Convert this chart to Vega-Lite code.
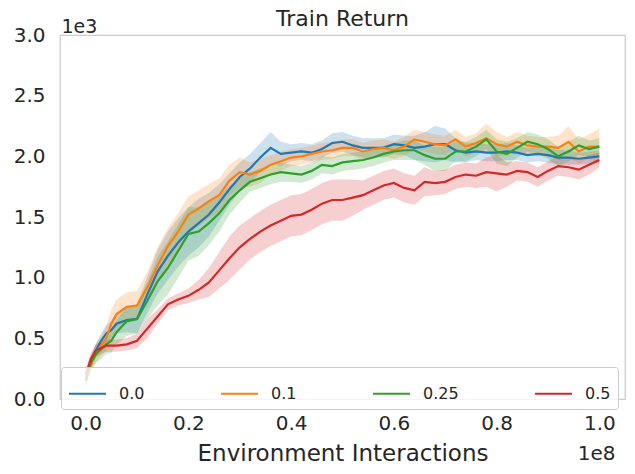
{
  "$schema": "https://vega.github.io/schema/vega-lite/v6.json",
  "autosize": {"type": "none"},
  "padding": {"left": 60, "top": 35, "right": 10, "bottom": 75},
  "width": 565,
  "height": 364,
  "title": {"text": "Train Return", "fontSize": 22, "fontWeight": "normal", "color": "#262626", "offset": -14},
  "data": {
    "values": [
      {"s": "0.0", "x": 0, "y": 150, "lo": 100, "hi": 200},
      {"s": "0.0", "x": 1000000, "y": 300, "lo": 250, "hi": 350},
      {"s": "0.0", "x": 2000000, "y": 400, "lo": 340, "hi": 460},
      {"s": "0.0", "x": 3000000, "y": 480, "lo": 420, "hi": 540},
      {"s": "0.0", "x": 4000000, "y": 540, "lo": 470, "hi": 610},
      {"s": "0.0", "x": 5000000, "y": 570, "lo": 490, "hi": 650},
      {"s": "0.0", "x": 6000000, "y": 620, "lo": 540, "hi": 700},
      {"s": "0.0", "x": 8000000, "y": 650, "lo": 550, "hi": 750},
      {"s": "0.0", "x": 10000000, "y": 660, "lo": 540, "hi": 780},
      {"s": "0.0", "x": 12000000, "y": 860, "lo": 710, "hi": 1010},
      {"s": "0.0", "x": 14000000, "y": 1050, "lo": 870, "hi": 1230},
      {"s": "0.0", "x": 16000000, "y": 1180, "lo": 980, "hi": 1380},
      {"s": "0.0", "x": 18000000, "y": 1290, "lo": 1090, "hi": 1490},
      {"s": "0.0", "x": 20000000, "y": 1380, "lo": 1180, "hi": 1580},
      {"s": "0.0", "x": 22000000, "y": 1450, "lo": 1250, "hi": 1650},
      {"s": "0.0", "x": 24000000, "y": 1520, "lo": 1340, "hi": 1700},
      {"s": "0.0", "x": 26000000, "y": 1620, "lo": 1470, "hi": 1770},
      {"s": "0.0", "x": 28000000, "y": 1730, "lo": 1600, "hi": 1860},
      {"s": "0.0", "x": 30000000, "y": 1830, "lo": 1710, "hi": 1950},
      {"s": "0.0", "x": 32000000, "y": 1900, "lo": 1780, "hi": 2020},
      {"s": "0.0", "x": 34000000, "y": 1990, "lo": 1870, "hi": 2110},
      {"s": "0.0", "x": 36000000, "y": 2070, "lo": 1940, "hi": 2200},
      {"s": "0.0", "x": 38000000, "y": 2020, "lo": 1920, "hi": 2120},
      {"s": "0.0", "x": 40000000, "y": 2030, "lo": 1960, "hi": 2100},
      {"s": "0.0", "x": 42000000, "y": 2040, "lo": 1970, "hi": 2110},
      {"s": "0.0", "x": 44000000, "y": 2030, "lo": 1960, "hi": 2100},
      {"s": "0.0", "x": 46000000, "y": 2060, "lo": 1990, "hi": 2130},
      {"s": "0.0", "x": 48000000, "y": 2110, "lo": 2030, "hi": 2190},
      {"s": "0.0", "x": 50000000, "y": 2120, "lo": 2040, "hi": 2200},
      {"s": "0.0", "x": 52000000, "y": 2090, "lo": 2010, "hi": 2170},
      {"s": "0.0", "x": 54000000, "y": 2070, "lo": 1990, "hi": 2150},
      {"s": "0.0", "x": 56000000, "y": 2070, "lo": 1990, "hi": 2150},
      {"s": "0.0", "x": 58000000, "y": 2070, "lo": 1990, "hi": 2150},
      {"s": "0.0", "x": 60000000, "y": 2100, "lo": 2020, "hi": 2180},
      {"s": "0.0", "x": 62000000, "y": 2090, "lo": 2010, "hi": 2170},
      {"s": "0.0", "x": 64000000, "y": 2070, "lo": 1970, "hi": 2170},
      {"s": "0.0", "x": 66000000, "y": 2080, "lo": 1960, "hi": 2200},
      {"s": "0.0", "x": 68000000, "y": 2100, "lo": 1950, "hi": 2250},
      {"s": "0.0", "x": 70000000, "y": 2100, "lo": 1970, "hi": 2230},
      {"s": "0.0", "x": 72000000, "y": 2050, "lo": 1950, "hi": 2150},
      {"s": "0.0", "x": 74000000, "y": 2030, "lo": 1950, "hi": 2110},
      {"s": "0.0", "x": 76000000, "y": 2040, "lo": 1970, "hi": 2110},
      {"s": "0.0", "x": 78000000, "y": 2030, "lo": 1960, "hi": 2100},
      {"s": "0.0", "x": 80000000, "y": 2030, "lo": 1960, "hi": 2100},
      {"s": "0.0", "x": 82000000, "y": 2040, "lo": 1970, "hi": 2110},
      {"s": "0.0", "x": 84000000, "y": 2030, "lo": 1970, "hi": 2090},
      {"s": "0.0", "x": 86000000, "y": 2010, "lo": 1950, "hi": 2070},
      {"s": "0.0", "x": 88000000, "y": 2020, "lo": 1960, "hi": 2080},
      {"s": "0.0", "x": 90000000, "y": 2010, "lo": 1950, "hi": 2070},
      {"s": "0.0", "x": 92000000, "y": 1990, "lo": 1930, "hi": 2050},
      {"s": "0.0", "x": 94000000, "y": 1990, "lo": 1930, "hi": 2050},
      {"s": "0.0", "x": 96000000, "y": 1980, "lo": 1930, "hi": 2030},
      {"s": "0.0", "x": 98000000, "y": 1990, "lo": 1940, "hi": 2040},
      {"s": "0.0", "x": 100000000, "y": 2000, "lo": 1950, "hi": 2050},

      {"s": "0.1", "x": 0, "y": 150, "lo": 100, "hi": 200},
      {"s": "0.1", "x": 1000000, "y": 280, "lo": 220, "hi": 340},
      {"s": "0.1", "x": 2000000, "y": 380, "lo": 300, "hi": 460},
      {"s": "0.1", "x": 3000000, "y": 440, "lo": 360, "hi": 520},
      {"s": "0.1", "x": 4000000, "y": 500, "lo": 400, "hi": 600},
      {"s": "0.1", "x": 5000000, "y": 620, "lo": 500, "hi": 740},
      {"s": "0.1", "x": 6000000, "y": 700, "lo": 580, "hi": 820},
      {"s": "0.1", "x": 8000000, "y": 760, "lo": 640, "hi": 880},
      {"s": "0.1", "x": 10000000, "y": 770, "lo": 650, "hi": 890},
      {"s": "0.1", "x": 12000000, "y": 920, "lo": 790, "hi": 1050},
      {"s": "0.1", "x": 14000000, "y": 1100, "lo": 950, "hi": 1250},
      {"s": "0.1", "x": 16000000, "y": 1260, "lo": 1110, "hi": 1410},
      {"s": "0.1", "x": 18000000, "y": 1380, "lo": 1230, "hi": 1530},
      {"s": "0.1", "x": 20000000, "y": 1520, "lo": 1370, "hi": 1670},
      {"s": "0.1", "x": 22000000, "y": 1570, "lo": 1420, "hi": 1720},
      {"s": "0.1", "x": 24000000, "y": 1630, "lo": 1490, "hi": 1770},
      {"s": "0.1", "x": 26000000, "y": 1680, "lo": 1540, "hi": 1820},
      {"s": "0.1", "x": 28000000, "y": 1800, "lo": 1670, "hi": 1930},
      {"s": "0.1", "x": 30000000, "y": 1870, "lo": 1750, "hi": 1990},
      {"s": "0.1", "x": 32000000, "y": 1850, "lo": 1750, "hi": 1950},
      {"s": "0.1", "x": 34000000, "y": 1880, "lo": 1780, "hi": 1980},
      {"s": "0.1", "x": 36000000, "y": 1930, "lo": 1850, "hi": 2010},
      {"s": "0.1", "x": 38000000, "y": 1960, "lo": 1880, "hi": 2040},
      {"s": "0.1", "x": 40000000, "y": 1990, "lo": 1920, "hi": 2060},
      {"s": "0.1", "x": 42000000, "y": 2000, "lo": 1930, "hi": 2070},
      {"s": "0.1", "x": 44000000, "y": 2020, "lo": 1950, "hi": 2090},
      {"s": "0.1", "x": 46000000, "y": 2040, "lo": 1970, "hi": 2110},
      {"s": "0.1", "x": 48000000, "y": 2050, "lo": 1980, "hi": 2120},
      {"s": "0.1", "x": 50000000, "y": 2070, "lo": 2000, "hi": 2140},
      {"s": "0.1", "x": 52000000, "y": 2070, "lo": 2000, "hi": 2140},
      {"s": "0.1", "x": 54000000, "y": 2040, "lo": 1970, "hi": 2110},
      {"s": "0.1", "x": 56000000, "y": 2060, "lo": 1990, "hi": 2130},
      {"s": "0.1", "x": 58000000, "y": 2070, "lo": 2000, "hi": 2140},
      {"s": "0.1", "x": 60000000, "y": 2050, "lo": 1980, "hi": 2120},
      {"s": "0.1", "x": 62000000, "y": 2080, "lo": 2000, "hi": 2160},
      {"s": "0.1", "x": 64000000, "y": 2140, "lo": 2060, "hi": 2220},
      {"s": "0.1", "x": 66000000, "y": 2120, "lo": 2040, "hi": 2200},
      {"s": "0.1", "x": 68000000, "y": 2100, "lo": 2020, "hi": 2180},
      {"s": "0.1", "x": 70000000, "y": 2090, "lo": 2010, "hi": 2170},
      {"s": "0.1", "x": 72000000, "y": 2140, "lo": 2060, "hi": 2220},
      {"s": "0.1", "x": 74000000, "y": 2080, "lo": 2000, "hi": 2160},
      {"s": "0.1", "x": 76000000, "y": 2110, "lo": 2030, "hi": 2190},
      {"s": "0.1", "x": 78000000, "y": 2150, "lo": 2030, "hi": 2270},
      {"s": "0.1", "x": 80000000, "y": 2100, "lo": 2000, "hi": 2200},
      {"s": "0.1", "x": 82000000, "y": 2080, "lo": 2000, "hi": 2160},
      {"s": "0.1", "x": 84000000, "y": 2120, "lo": 2040, "hi": 2200},
      {"s": "0.1", "x": 86000000, "y": 2090, "lo": 2010, "hi": 2170},
      {"s": "0.1", "x": 88000000, "y": 2080, "lo": 2000, "hi": 2160},
      {"s": "0.1", "x": 90000000, "y": 2080, "lo": 2000, "hi": 2160},
      {"s": "0.1", "x": 92000000, "y": 2070, "lo": 1970, "hi": 2170},
      {"s": "0.1", "x": 94000000, "y": 2120, "lo": 1990, "hi": 2250},
      {"s": "0.1", "x": 96000000, "y": 2040, "lo": 1940, "hi": 2140},
      {"s": "0.1", "x": 98000000, "y": 2080, "lo": 1980, "hi": 2180},
      {"s": "0.1", "x": 100000000, "y": 2080, "lo": 1930, "hi": 2230},

      {"s": "0.25", "x": 0, "y": 150, "lo": 100, "hi": 200},
      {"s": "0.25", "x": 1000000, "y": 300, "lo": 240, "hi": 360},
      {"s": "0.25", "x": 2000000, "y": 370, "lo": 300, "hi": 440},
      {"s": "0.25", "x": 3000000, "y": 410, "lo": 330, "hi": 490},
      {"s": "0.25", "x": 4000000, "y": 450, "lo": 370, "hi": 530},
      {"s": "0.25", "x": 5000000, "y": 480, "lo": 380, "hi": 580},
      {"s": "0.25", "x": 6000000, "y": 550, "lo": 450, "hi": 650},
      {"s": "0.25", "x": 8000000, "y": 640, "lo": 520, "hi": 760},
      {"s": "0.25", "x": 10000000, "y": 660, "lo": 540, "hi": 780},
      {"s": "0.25", "x": 12000000, "y": 810, "lo": 660, "hi": 960},
      {"s": "0.25", "x": 14000000, "y": 970, "lo": 770, "hi": 1170},
      {"s": "0.25", "x": 16000000, "y": 1080, "lo": 860, "hi": 1300},
      {"s": "0.25", "x": 18000000, "y": 1220, "lo": 1000, "hi": 1440},
      {"s": "0.25", "x": 20000000, "y": 1360, "lo": 1140, "hi": 1580},
      {"s": "0.25", "x": 22000000, "y": 1380, "lo": 1180, "hi": 1580},
      {"s": "0.25", "x": 24000000, "y": 1450, "lo": 1270, "hi": 1630},
      {"s": "0.25", "x": 26000000, "y": 1530, "lo": 1380, "hi": 1680},
      {"s": "0.25", "x": 28000000, "y": 1640, "lo": 1520, "hi": 1760},
      {"s": "0.25", "x": 30000000, "y": 1720, "lo": 1620, "hi": 1820},
      {"s": "0.25", "x": 32000000, "y": 1790, "lo": 1710, "hi": 1870},
      {"s": "0.25", "x": 34000000, "y": 1820, "lo": 1740, "hi": 1900},
      {"s": "0.25", "x": 36000000, "y": 1850, "lo": 1770, "hi": 1930},
      {"s": "0.25", "x": 38000000, "y": 1870, "lo": 1790, "hi": 1950},
      {"s": "0.25", "x": 40000000, "y": 1860, "lo": 1790, "hi": 1930},
      {"s": "0.25", "x": 42000000, "y": 1850, "lo": 1780, "hi": 1920},
      {"s": "0.25", "x": 44000000, "y": 1880, "lo": 1810, "hi": 1950},
      {"s": "0.25", "x": 46000000, "y": 1930, "lo": 1860, "hi": 2000},
      {"s": "0.25", "x": 48000000, "y": 1920, "lo": 1850, "hi": 1990},
      {"s": "0.25", "x": 50000000, "y": 1950, "lo": 1880, "hi": 2020},
      {"s": "0.25", "x": 52000000, "y": 1960, "lo": 1890, "hi": 2030},
      {"s": "0.25", "x": 54000000, "y": 1970, "lo": 1900, "hi": 2040},
      {"s": "0.25", "x": 56000000, "y": 1990, "lo": 1920, "hi": 2060},
      {"s": "0.25", "x": 58000000, "y": 2020, "lo": 1950, "hi": 2090},
      {"s": "0.25", "x": 60000000, "y": 2040, "lo": 1970, "hi": 2110},
      {"s": "0.25", "x": 62000000, "y": 2050, "lo": 1970, "hi": 2130},
      {"s": "0.25", "x": 64000000, "y": 2050, "lo": 1970, "hi": 2130},
      {"s": "0.25", "x": 66000000, "y": 2010, "lo": 1930, "hi": 2090},
      {"s": "0.25", "x": 68000000, "y": 1980, "lo": 1880, "hi": 2080},
      {"s": "0.25", "x": 70000000, "y": 1980, "lo": 1880, "hi": 2080},
      {"s": "0.25", "x": 72000000, "y": 2040, "lo": 1960, "hi": 2120},
      {"s": "0.25", "x": 74000000, "y": 2040, "lo": 1960, "hi": 2120},
      {"s": "0.25", "x": 76000000, "y": 2080, "lo": 2000, "hi": 2160},
      {"s": "0.25", "x": 78000000, "y": 2140, "lo": 2060, "hi": 2220},
      {"s": "0.25", "x": 80000000, "y": 2040, "lo": 1940, "hi": 2140},
      {"s": "0.25", "x": 82000000, "y": 2020, "lo": 1920, "hi": 2120},
      {"s": "0.25", "x": 84000000, "y": 2070, "lo": 1990, "hi": 2150},
      {"s": "0.25", "x": 86000000, "y": 2120, "lo": 2040, "hi": 2200},
      {"s": "0.25", "x": 88000000, "y": 2100, "lo": 2020, "hi": 2180},
      {"s": "0.25", "x": 90000000, "y": 2060, "lo": 1980, "hi": 2140},
      {"s": "0.25", "x": 92000000, "y": 2000, "lo": 1920, "hi": 2080},
      {"s": "0.25", "x": 94000000, "y": 2040, "lo": 1960, "hi": 2120},
      {"s": "0.25", "x": 96000000, "y": 2090, "lo": 2010, "hi": 2170},
      {"s": "0.25", "x": 98000000, "y": 2060, "lo": 1990, "hi": 2130},
      {"s": "0.25", "x": 100000000, "y": 2080, "lo": 2010, "hi": 2150},

      {"s": "0.5", "x": 0, "y": 200, "lo": 150, "hi": 250},
      {"s": "0.5", "x": 1000000, "y": 330, "lo": 280, "hi": 380},
      {"s": "0.5", "x": 2000000, "y": 400, "lo": 350, "hi": 450},
      {"s": "0.5", "x": 3000000, "y": 420, "lo": 370, "hi": 470},
      {"s": "0.5", "x": 4000000, "y": 440, "lo": 390, "hi": 490},
      {"s": "0.5", "x": 5000000, "y": 440, "lo": 390, "hi": 490},
      {"s": "0.5", "x": 6000000, "y": 440, "lo": 390, "hi": 490},
      {"s": "0.5", "x": 8000000, "y": 450, "lo": 400, "hi": 500},
      {"s": "0.5", "x": 10000000, "y": 480, "lo": 420, "hi": 540},
      {"s": "0.5", "x": 12000000, "y": 580, "lo": 500, "hi": 660},
      {"s": "0.5", "x": 14000000, "y": 680, "lo": 620, "hi": 740},
      {"s": "0.5", "x": 16000000, "y": 780, "lo": 730, "hi": 830},
      {"s": "0.5", "x": 18000000, "y": 820, "lo": 770, "hi": 870},
      {"s": "0.5", "x": 20000000, "y": 850, "lo": 790, "hi": 910},
      {"s": "0.5", "x": 22000000, "y": 900, "lo": 820, "hi": 980},
      {"s": "0.5", "x": 24000000, "y": 960, "lo": 840, "hi": 1080},
      {"s": "0.5", "x": 26000000, "y": 1060, "lo": 910, "hi": 1210},
      {"s": "0.5", "x": 28000000, "y": 1160, "lo": 980, "hi": 1340},
      {"s": "0.5", "x": 30000000, "y": 1250, "lo": 1070, "hi": 1430},
      {"s": "0.5", "x": 32000000, "y": 1320, "lo": 1150, "hi": 1490},
      {"s": "0.5", "x": 34000000, "y": 1380, "lo": 1210, "hi": 1550},
      {"s": "0.5", "x": 36000000, "y": 1430, "lo": 1260, "hi": 1600},
      {"s": "0.5", "x": 38000000, "y": 1470, "lo": 1300, "hi": 1640},
      {"s": "0.5", "x": 40000000, "y": 1510, "lo": 1340, "hi": 1680},
      {"s": "0.5", "x": 42000000, "y": 1520, "lo": 1350, "hi": 1690},
      {"s": "0.5", "x": 44000000, "y": 1560, "lo": 1390, "hi": 1730},
      {"s": "0.5", "x": 46000000, "y": 1610, "lo": 1440, "hi": 1780},
      {"s": "0.5", "x": 48000000, "y": 1640, "lo": 1470, "hi": 1810},
      {"s": "0.5", "x": 50000000, "y": 1640, "lo": 1470, "hi": 1810},
      {"s": "0.5", "x": 52000000, "y": 1660, "lo": 1510, "hi": 1810},
      {"s": "0.5", "x": 54000000, "y": 1680, "lo": 1560, "hi": 1800},
      {"s": "0.5", "x": 56000000, "y": 1720, "lo": 1600, "hi": 1840},
      {"s": "0.5", "x": 58000000, "y": 1760, "lo": 1640, "hi": 1880},
      {"s": "0.5", "x": 60000000, "y": 1780, "lo": 1660, "hi": 1900},
      {"s": "0.5", "x": 62000000, "y": 1740, "lo": 1620, "hi": 1860},
      {"s": "0.5", "x": 64000000, "y": 1720, "lo": 1600, "hi": 1840},
      {"s": "0.5", "x": 66000000, "y": 1790, "lo": 1670, "hi": 1910},
      {"s": "0.5", "x": 68000000, "y": 1780, "lo": 1680, "hi": 1880},
      {"s": "0.5", "x": 70000000, "y": 1790, "lo": 1690, "hi": 1890},
      {"s": "0.5", "x": 72000000, "y": 1830, "lo": 1730, "hi": 1930},
      {"s": "0.5", "x": 74000000, "y": 1850, "lo": 1750, "hi": 1950},
      {"s": "0.5", "x": 76000000, "y": 1840, "lo": 1740, "hi": 1940},
      {"s": "0.5", "x": 78000000, "y": 1870, "lo": 1750, "hi": 1990},
      {"s": "0.5", "x": 80000000, "y": 1860, "lo": 1710, "hi": 2010},
      {"s": "0.5", "x": 82000000, "y": 1850, "lo": 1750, "hi": 1950},
      {"s": "0.5", "x": 84000000, "y": 1880, "lo": 1800, "hi": 1960},
      {"s": "0.5", "x": 86000000, "y": 1870, "lo": 1790, "hi": 1950},
      {"s": "0.5", "x": 88000000, "y": 1830, "lo": 1750, "hi": 1910},
      {"s": "0.5", "x": 90000000, "y": 1880, "lo": 1800, "hi": 1960},
      {"s": "0.5", "x": 92000000, "y": 1920, "lo": 1840, "hi": 2000},
      {"s": "0.5", "x": 94000000, "y": 1910, "lo": 1830, "hi": 1990},
      {"s": "0.5", "x": 96000000, "y": 1890, "lo": 1810, "hi": 1970},
      {"s": "0.5", "x": 98000000, "y": 1930, "lo": 1850, "hi": 2010},
      {"s": "0.5", "x": 100000000, "y": 1970, "lo": 1910, "hi": 2030}
    ]
  },
  "encoding": {
    "x": {
      "field": "x",
      "type": "quantitative",
      "scale": {"domain": [-5000000, 105000000], "nice": false, "zero": false},
      "axis": {
        "values": [0, 20000000, 40000000, 60000000, 80000000, 100000000],
        "labelExpr": "format(datum.value / 100000000, '.1f')",
        "title": "Environment Interactions",
        "titleFontSize": 23,
        "titleY": 61,
        "titleBaseline": "alphabetic",
        "labelPadding": 14
      }
    },
    "color": {
      "field": "s",
      "type": "nominal",
      "scale": {
        "domain": ["0.0", "0.1", "0.25", "0.5"],
        "range": ["#1f77b4", "#ff7f0e", "#2ca02c", "#d62728"]
      },
      "legend": {
        "title": null,
        "orient": "none",
        "legendX": 1,
        "legendY": 332,
        "direction": "horizontal",
        "columns": 4,
        "columnPadding": 72,
        "symbolType": "stroke",
        "symbolSize": 1369,
        "symbolStrokeWidth": 2,
        "symbolOpacity": 1,
        "labelFontSize": 16,
        "labelOffset": 12,
        "labelColor": "#262626",
        "padding": 7,
        "strokeColor": "#cccccc",
        "fillColor": "rgba(255,255,255,0.8)",
        "cornerRadius": 3
      }
    }
  },
  "layer": [
    {
      "mark": {"type": "area", "opacity": 0.22},
      "encoding": {
        "y": {
          "field": "lo",
          "type": "quantitative",
          "scale": {"domain": [0, 3000], "nice": false},
          "axis": {
            "values": [0, 500, 1000, 1500, 2000, 2500, 3000],
            "labelExpr": "format(datum.value / 1000, '.1f')",
            "labelPadding": 15,
            "title": "1e3",
            "titleAngle": 0,
            "titleAlign": "left",
            "titleBaseline": "alphabetic",
            "titleX": 1,
            "titleY": -3,
            "titleFontSize": 19
          }
        },
        "y2": {"field": "hi"}
      }
    },
    {
      "mark": {"type": "line", "strokeWidth": 2.2},
      "encoding": {
        "y": {
          "field": "y",
          "type": "quantitative",
          "axis": {
            "orient": "right",
            "labels": false,
            "title": "1e8",
            "titleAngle": 0,
            "titleAlign": "right",
            "titleBaseline": "alphabetic",
            "titleX": -10,
            "titleY": 424,
            "titleFontSize": 20
          }
        }
      }
    }
  ],
  "resolve": {"axis": {"y": "independent"}},
  "config": {
    "font": "DejaVu Sans",
    "view": {"stroke": "#cccccc", "strokeWidth": 1.25},
    "axis": {
      "grid": false,
      "domain": false,
      "ticks": false,
      "tickSize": 0,
      "labelFontSize": 20,
      "labelColor": "#262626",
      "titleColor": "#262626",
      "titleFontWeight": "normal"
    }
  }
}
